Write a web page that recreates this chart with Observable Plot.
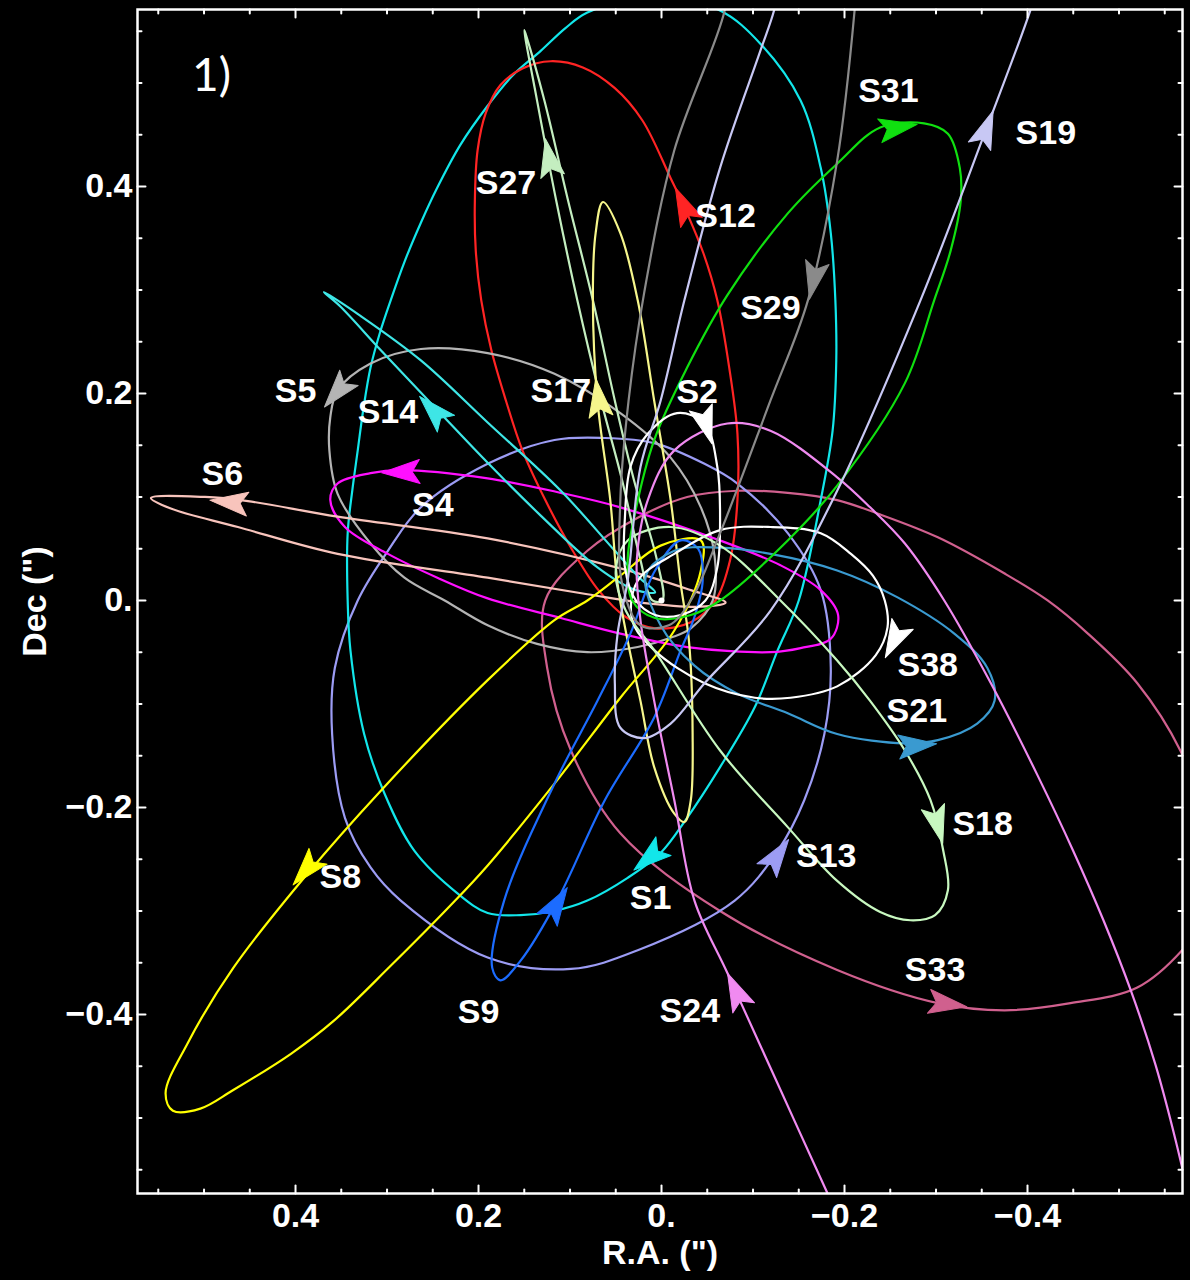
<!DOCTYPE html>
<html><head><meta charset="utf-8">
<script src="https://cdn.jsdelivr.net/npm/d3@7"></script>
<script src="https://cdn.jsdelivr.net/npm/@observablehq/plot@0.6"></script>
<style>
html,body{margin:0;padding:0;background:#000;}
#chart{width:1190px;height:1280px;}
</style></head><body><div id="chart"></div>
<script>
// ---- Orbit tracks: [R.A. offset ("), Dec offset (")] ----
const S1 = [[0.343,0],[0.343,0.065],[0.338,0.106],[0.332,0.145],[0.326,0.184],[0.318,0.225],[0.308,0.258],[0.296,0.290],[0.281,0.327],[0.263,0.365],[0.245,0.399],[0.220,0.440],[0.190,0.478],[0.163,0.507],[0.132,0.531],[0.105,0.553],[0.081,0.568],[0.007,0.585],[-0.064,0.570],[-0.108,0.538],[-0.152,0.483],[-0.174,0.418],[-0.185,0.355],[-0.190,0.290],[-0.191,0.232],[-0.187,0.164],[-0.174,0.097],[-0.150,0],[-0.127,-0.048],[-0.102,-0.103],[-0.064,-0.161],[-0.028,-0.210],[0.001,-0.244],[0.037,-0.268],[0.081,-0.290],[0.117,-0.300],[0.154,-0.304],[0.190,-0.302],[0.223,-0.283],[0.270,-0.242],[0.303,-0.186],[0.325,-0.129],[0.340,-0.048]];
const S2 = [[-0.017,0.181],[-0.047,0.171],[-0.061,0.129],[-0.064,0.080],[-0.061,0.032],[-0.048,0],[-0.021,-0.014],[0.007,-0.014],[0.028,0],[0.040,0.032],[0.040,0.080],[0.034,0.129],[0.015,0.161]];
const S4 = [[0.362,0.097],[0.354,0.113],[0.318,0.123],[0.285,0.126],[0.190,0.118],[0.110,0.104],[0.045,0.090],[-0.064,0.058],[-0.130,0.034],[-0.174,0.010],[-0.193,-0.014],[-0.185,-0.037],[-0.152,-0.046],[-0.119,-0.050],[-0.028,-0.045],[0.045,-0.032],[0.110,-0.017],[0.190,0.002],[0.245,0.022],[0.299,0.045],[0.346,0.071]];
const S5 = [[0.354,0.203],[0.318,0.229],[0.263,0.243],[0.190,0.239],[0.117,0.219],[0.045,0.181],[-0.010,0.138],[-0.043,0.090],[-0.058,0.043],[-0.056,0],[-0.032,-0.027],[-0.010,-0.036],[0.026,-0.045],[0.081,-0.050],[0.136,-0.042],[0.190,-0.024],[0.237,0],[0.281,0.022],[0.318,0.055],[0.354,0.103],[0.363,0.145],[0.362,0.177]];
const S6 = [[0.558,0.099],[0.499,0.100],[0.452,0.096],[0.354,0.081],[0.190,0.060],[0.045,0.031],[-0.032,0.010],[-0.070,-0.002],[-0.043,-0.006],[0.023,-0.002],[0.081,0.006],[0.190,0.022],[0.354,0.045],[0.463,0.071],[0.537,0.089]];
const S8 = [[-0.043,0.058],[0.001,0.053],[0.045,0.024],[0.081,0],[0.117,-0.019],[0.190,-0.077],[0.307,-0.184],[0.387,-0.264],[0.468,-0.355],[0.518,-0.428],[0.542,-0.476],[0.534,-0.493],[0.504,-0.491],[0.468,-0.473],[0.405,-0.438],[0.358,-0.406],[0.296,-0.353],[0.231,-0.295],[0.190,-0.256],[0.117,-0.177],[0.045,-0.094],[-0.014,-0.029],[-0.043,0.029]];
const S9 = [[-0.021,0.058],[-0.040,0.050],[-0.045,0.019],[-0.036,-0.016],[-0.021,-0.048],[0.008,-0.113],[0.062,-0.193],[0.114,-0.290],[0.154,-0.348],[0.176,-0.367],[0.185,-0.355],[0.172,-0.290],[0.117,-0.177],[0.070,-0.097],[0.034,-0.032],[0.007,0.029]];
const S12 = [[0.121,0.521],[0.152,0.514],[0.176,0.498],[0.192,0.471],[0.201,0.435],[0.204,0.386],[0.203,0.338],[0.197,0.290],[0.186,0.242],[0.170,0.193],[0.152,0.145],[0.127,0.097],[0.097,0.048],[0.069,0.010],[0.039,-0.016],[0.007,-0.027],[-0.032,-0.021],[-0.059,0],[-0.075,0.039],[-0.083,0.097],[-0.083,0.161],[-0.074,0.225],[-0.061,0.290],[-0.046,0.335],[-0.028,0.374],[-0.010,0.408],[0.021,0.464],[0.051,0.495],[0.086,0.515]];
const S13 = [[0.332,0],[0.299,0.048],[0.263,0.090],[0.190,0.132],[0.117,0.155],[0.062,0.157],[0.008,0.152],[-0.047,0.132],[-0.083,0.113],[-0.138,0.065],[-0.174,0.010],[-0.185,-0.065],[-0.178,-0.129],[-0.156,-0.193],[-0.127,-0.242],[-0.080,-0.290],[0.026,-0.338],[0.099,-0.356],[0.190,-0.345],[0.285,-0.290],[0.318,-0.258],[0.346,-0.210],[0.360,-0.129],[0.357,-0.065]];
const S14 = [[0.369,0.298],[0.329,0.275],[0.263,0.232],[0.190,0.172],[0.110,0.106],[0.051,0.048],[0.023,0.021],[0.007,0.008],[0.028,0.010],[0.070,0.032],[0.132,0.082],[0.190,0.133],[0.245,0.184],[0.307,0.242],[0.351,0.284]];
const S17 = [[0.064,0.385],[0.045,0.355],[0.026,0.290],[0.008,0.193],[-0.010,0.097],[-0.021,0.016],[-0.030,-0.039],[-0.034,-0.129],[-0.032,-0.193],[-0.025,-0.214],[-0.014,-0.206],[0.008,-0.161],[0.023,-0.097],[0.037,-0.039],[0.048,0.016],[0.056,0.097],[0.070,0.193],[0.075,0.290],[0.072,0.355]];
const S18 = [[0.050,0.029],[0.037,0.058],[-0.010,0.071],[-0.064,0.053],[-0.130,0],[-0.192,-0.058],[-0.228,-0.097],[-0.266,-0.145],[-0.294,-0.193],[-0.308,-0.242],[-0.313,-0.280],[-0.299,-0.304],[-0.272,-0.309],[-0.239,-0.301],[-0.192,-0.271],[-0.138,-0.219],[-0.064,-0.145],[0.008,-0.048],[0.039,-0.010]];
const S19 = [[-0.416,0.609],[-0.403,0.570],[-0.353,0.451],[-0.283,0.290],[-0.192,0.106],[-0.119,-0.010],[-0.047,-0.080],[-0.010,-0.119],[0.019,-0.133],[0.045,-0.123],[0.051,-0.080],[0.048,-0.032],[0.037,0.019],[0.023,0.129],[0.001,0.193],[-0.025,0.290],[-0.064,0.418],[-0.108,0.531],[-0.123,0.570],[-0.132,0.609]];
const S21 = [[0.017,0.024],[-0.014,0.048],[-0.064,0.051],[-0.119,0.045],[-0.192,0.029],[-0.258,0.003],[-0.320,-0.032],[-0.356,-0.065],[-0.364,-0.097],[-0.345,-0.119],[-0.302,-0.135],[-0.266,-0.138],[-0.192,-0.129],[-0.138,-0.109],[-0.083,-0.090],[-0.036,-0.063],[0.001,-0.024]];
const S24 = [[-0.587,-0.618],[-0.562,-0.522],[-0.540,-0.449],[-0.513,-0.377],[-0.483,-0.309],[-0.450,-0.242],[-0.411,-0.169],[-0.360,-0.080],[-0.309,0],[-0.266,0.055],[-0.228,0.090],[-0.192,0.119],[-0.119,0.164],[-0.072,0.171],[-0.014,0.145],[0.015,0.097],[0.027,0.039],[0.023,-0.019],[0.008,-0.097],[-0.014,-0.193],[-0.036,-0.290],[-0.072,-0.360],[-0.127,-0.467],[-0.181,-0.572],[-0.201,-0.609]];
const S27 = [[0.150,0.551],[0.136,0.483],[0.115,0.386],[0.092,0.290],[0.066,0.193],[0.043,0.116],[0.023,0.039],[0.010,0],[-0.001,0],[0.005,0.039],[0.030,0.116],[0.051,0.193],[0.075,0.290],[0.102,0.386],[0.128,0.483],[0.148,0.546]];
const S29 = [[-0.073,0.609],[-0.069,0.570],[-0.014,0.435],[0.019,0.297],[0.036,0.193],[0.045,0.097],[0.043,0.016],[0.023,-0.024],[-0.008,-0.024],[-0.032,0],[-0.064,0.065],[-0.119,0.193],[-0.160,0.290],[-0.192,0.425],[-0.211,0.570],[-0.214,0.609]];
const S31 = [[-0.239,0.457],[-0.287,0.461],[-0.313,0.451],[-0.326,0.418],[-0.327,0.386],[-0.316,0.338],[-0.298,0.290],[-0.266,0.210],[-0.192,0.111],[-0.138,0.058],[-0.064,0],[-0.032,-0.014],[0.007,-0.017],[0.032,0],[0.037,0.039],[0.030,0.080],[0.008,0.155],[-0.028,0.225],[-0.072,0.295],[-0.138,0.374],[-0.192,0.422]];
const S33 = [[0.127,0],[0.081,0.048],[0.026,0.080],[-0.028,0.100],[-0.083,0.106],[-0.138,0.104],[-0.192,0.097],[-0.236,0.084],[-0.302,0.061],[-0.375,0.026],[-0.422,0],[-0.466,-0.032],[-0.520,-0.080],[-0.567,-0.145],[-0.602,-0.232],[-0.595,-0.304],[-0.572,-0.335],[-0.520,-0.374],[-0.447,-0.389],[-0.375,-0.396],[-0.302,-0.389],[-0.192,-0.357],[-0.064,-0.300],[0.045,-0.225],[0.099,-0.145],[0.125,-0.065]];
const S38 = [[0.026,0.019],[-0.014,0.045],[-0.064,0.068],[-0.119,0.071],[-0.174,0.065],[-0.207,0.045],[-0.231,0.024],[-0.244,0],[-0.247,-0.026],[-0.234,-0.053],[-0.192,-0.083],[-0.141,-0.094],[-0.102,-0.094],[-0.047,-0.080],[0.008,-0.048],[0.032,-0.019]];

// ---- Stars, direction markers and label anchors ----
const closedStars = ["S33","S13","S1","S12","S5","S4","S6","S14","S27","S17","S8","S9","S21","S38","S18","S31","S2"];
const openStars = ["S24","S29","S19"];
const arrowStar = ["S1","S2","S4","S5","S6","S8","S9","S12","S13","S14","S17","S18","S19","S21","S24","S27","S29","S31","S33","S38"];
const arrowRA   = [0.014,-0.049,0.285,0.355,0.473,0.389,0.114,-0.024,-0.127,0.250,0.069,-0.302,-0.355,-0.280,-0.081,0.123,-0.166,-0.259,-0.313,-0.254];
const arrowDec  = [-0.249,0.169,0.124,0.201,0.095,-0.261,-0.293,0.382,-0.246,0.184,0.196,-0.217,0.456,-0.140,-0.377,0.428,0.309,0.457,-0.390,-0.039];
const arrowAngle= [-129,163,-92,-140,-84,-139,32,-25,35,-44,-8,165,21,85,-25,-11,-168,80,98,-153];
const labelStar = ["S31","S19","S12","S27","S29","S17","S2","S5","S14","S6","S4","S38","S21","S18","S13","S1","S8","S9","S24","S33"];
const labelRA   = [-0.248,-0.420,-0.070,0.170,-0.119,0.110,-0.039,0.400,0.299,0.480,0.250,-0.291,-0.279,-0.351,-0.180,0.012,0.351,0.200,-0.031,-0.299];
const labelDec  = [0.492,0.452,0.371,0.403,0.282,0.202,0.201,0.202,0.182,0.122,0.092,-0.062,-0.107,-0.216,-0.247,-0.288,-0.267,-0.398,-0.397,-0.357];
const majorTicks = [-0.4,-0.2,0,0.2,0.4];
const minorTicks = [-0.55,-0.5,-0.45,-0.35,-0.3,-0.25,-0.15,-0.1,-0.05,0.05,0.1,0.15,0.25,0.3,0.35,0.45,0.5,0.55];

// ---- styles ----
const starColor = {S1:"#12e6ea",S2:"#ffffff",S4:"#ff10ff",S5:"#b4b4b4",S6:"#f8c4bc",S8:"#ffff00",S9:"#1c6cff",S12:"#ff2424",S13:"#9c9cf4",S14:"#3ee6e6",S17:"#f6f68c",S18:"#c8f8c0",S19:"#c8c8f4",S21:"#3a9ad0",S24:"#f08af0",S27:"#c4eec0",S29:"#8a8a8a",S31:"#10e010",S33:"#d0608e",S38:"#ffffff"};

const orbitTracks = {S1,S2,S4,S5,S6,S8,S9,S12,S13,S14,S17,S18,S19,S21,S24,S27,S29,S31,S33,S38};
const rows = names => names.flatMap(n => orbitTracks[n].map(([ra, dec]) => ({star: n, ra, dec})));
const arrows = arrowStar.map((s, i) => ({star: s, ra: arrowRA[i], dec: arrowDec[i], angle: arrowAngle[i]}));
const labels = labelStar.map((s, i) => ({text: s, ra: labelRA[i], dec: labelDec[i]}));

const arrowHead = {draw(ctx, l, r) { ctx.moveTo(0, -l); ctx.lineTo(r, 0); ctx.lineTo(0, -l * 0.2); ctx.lineTo(-r, 0); ctx.closePath(); }};
const tickLine = {draw(ctx, l) { ctx.moveTo(0, 0); ctx.lineTo(0, -l); }};
const fmt = d => d === 0 ? "0." : (d < 0 ? "\u2212" : "") + Math.abs(d).toFixed(1);
const tickMarks = (vals, len) => [
  Plot.vector(vals, {x: d => d, frameAnchor: "bottom", rotate: 0, length: len, anchor: "start", shape: tickLine, stroke: "white", strokeWidth: 2}),
  Plot.vector(vals, {x: d => d, frameAnchor: "top", rotate: 180, length: len, anchor: "start", shape: tickLine, stroke: "white", strokeWidth: 2}),
  Plot.vector(vals, {y: d => d, frameAnchor: "left", rotate: 90, length: len, anchor: "start", shape: tickLine, stroke: "white", strokeWidth: 2}),
  Plot.vector(vals, {y: d => d, frameAnchor: "right", rotate: -90, length: len, anchor: "start", shape: tickLine, stroke: "white", strokeWidth: 2})
];

const chart = Plot.plot({
  width: 1190, height: 1280,
  marginLeft: 137, marginRight: 8, marginTop: 9, marginBottom: 87,
  x: {domain: [0.5727, -0.5694]},
  y: {domain: [-0.5730, 0.5710]},
  color: {type: "identity"},
  style: {background: "black", color: "white", fontFamily: "'Liberation Sans', Arial, sans-serif", fontSize: "34px", fontWeight: "bold"},
  marks: [
    Plot.line(rows(closedStars), {x: "ra", y: "dec", z: "star", stroke: d => starColor[d.star], strokeWidth: 2.2, curve: "catmull-rom-closed", clip: true}),
    Plot.line(rows(openStars), {x: "ra", y: "dec", z: "star", stroke: d => starColor[d.star], strokeWidth: 2.2, curve: "catmull-rom", clip: true}),
    Plot.dot([{ra: 0, dec: 0}], {x: "ra", y: "dec", r: 3, fill: "white"}),
    Plot.vector(arrows, {x: "ra", y: "dec", rotate: "angle", length: 38, r: 12, anchor: "middle", shape: arrowHead, fill: d => starColor[d.star], stroke: d => starColor[d.star], strokeWidth: 1}),
    Plot.text(labels, {x: "ra", y: "dec", text: "text", fill: "white", fontSize: 34, fontWeight: "bold", textAnchor: "middle", lineAnchor: "middle"}),
    Plot.frame({stroke: "white", strokeWidth: 2.5}),
    ...tickMarks(majorTicks, 8),
    ...tickMarks(minorTicks, 4),
    Plot.axisX({ticks: majorTicks, tickFormat: fmt, tickSize: 0, tickPadding: 9, label: null, fill: "white"}),
    Plot.axisY({ticks: majorTicks, tickFormat: fmt, tickSize: 0, tickPadding: 5, label: null, fill: "white"}),
    Plot.text(['R.A. (")'], {frameAnchor: "bottom", dy: 70, fill: "white", fontSize: 34, fontWeight: "bold", textAnchor: "middle"}),
    Plot.text(['Dec (")'], {frameAnchor: "left", dx: -102, rotate: -90, fill: "white", fontSize: 34, fontWeight: "bold", textAnchor: "middle"}),
    Plot.text(["1)"], {frameAnchor: "top-left", dx: 74, dy: 67, fill: "white", fontSize: 46, fontWeight: "normal", fontFamily: "Lato, 'Open Sans', sans-serif", lineAnchor: "middle", textAnchor: "middle"})
  ]
});
document.getElementById("chart").append(chart);
</script></body></html>
